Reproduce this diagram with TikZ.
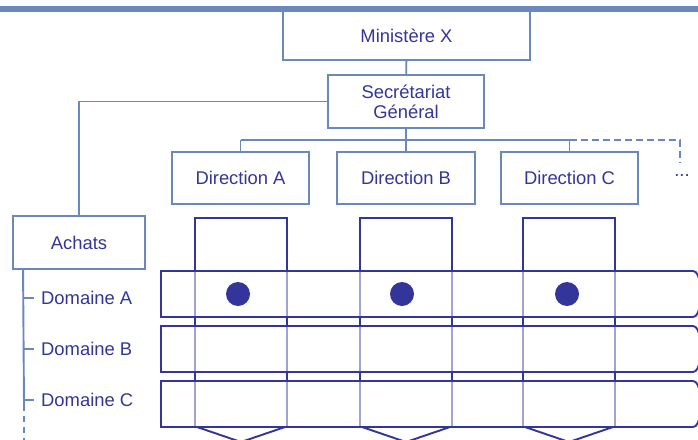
\documentclass[tikz,border=0pt]{standalone}
\usepackage{fontspec}
\setmainfont{Liberation Sans}
\definecolor{orgline}{HTML}{6A88C0}
\definecolor{orgtext}{HTML}{34359A}
\begin{document}
\begin{tikzpicture}[x=1pt,y=-1pt,
square/.style={
% The shape:
rectangle,
draw=orgline,
line width=1.9pt,
inner sep=0pt,
text=orgtext,
align=center,
font=\fontsize{18.4}{20}\selectfont
},
domtext/.style={
anchor=west,
inner sep=0pt,
text=orgtext,
font=\fontsize{18.4}{20}\selectfont
},
link/.style={draw=orgline,line width=1.9pt},
frame/.style={draw=orgtext,line width=1.9pt}
]
\useasboundingbox (0,0) rectangle (698,439);
\clip (0,0) rectangle (698,439);
\draw [orgline,line width=6pt] (0,9) -- (698,9);
% Boxes:
\node (ministry) [square,minimum width=247pt,minimum height=49pt] at (406.5,35.5) {Ministère X};
\node (secgen) [square,minimum width=156pt,minimum height=53pt] at (406,101.5) {Secrétariat\\Général};
\node (dirA) [square,minimum width=137pt,minimum height=52pt] at (240.5,178) {Direction A};
\node (dirB) [square,minimum width=138pt,minimum height=52pt] at (406,178) {Direction B};
\node (dirC) [square,minimum width=137pt,minimum height=52pt] at (569.5,178) {Direction C};
\node (achats) [square,minimum width=132pt,minimum height=53pt] at (79,242.5) {Achats};
\node (domA) [domtext] at (41,297.6) {Domaine A};
\node (domB) [domtext] at (41,348.6) {Domaine B};
\node (domC) [domtext] at (41,400.2) {Domaine C};
\node (more) [text=orgtext,inner sep=0pt,font=\fontsize{18.4}{20}\selectfont] at (682,176) {...};
\coordinate (bus) at (406,140);
\coordinate (moreend) at (680,162);
\coordinate (spine) at ([xshift=11pt]achats.south west);
\coordinate (spinecut) at (24,405);
\coordinate (spineend) at (24,441);
% Links:
\draw [link] (ministry) -- (secgen);
\draw [link] (secgen.west) -| (achats.north);
\draw [link] (secgen.south) -- (bus);
\draw [link] (dirA.north |- bus) -- (dirC.north |- bus);
\foreach \d in {dirA,dirB,dirC}
  \draw [link] (\d.north |- bus) -- (\d.north);
\draw [link,dash pattern=on 7pt off 4pt] (dirC.north |- bus) -| (moreend);
\draw [link] (spine) -- (spinecut);
\draw [link,dash pattern=on 6pt off 5pt] (spinecut) -- (spineend);
\foreach \d in {domA,domB,domC}
  \draw [link] (spine |- \d.west) -- ([xshift=-7pt]\d.west);
% Columns and bands:
\foreach \x in {241,406,569} {
  \draw [frame] (\x-46,427) |- (\x+46,218) -- (\x+46,427);
  \draw [frame] (\x-44,427) -- (\x,442) -- (\x+44,427);
}
\foreach \t in {271,326,381}
  \draw [frame,fill=white,fill opacity=0.55] (161,\t) -- (693,\t) .. controls (697,\t) and (699,\t+6) .. (700,\t+12) -- (700,\t+34) .. controls (699,\t+40) and (697,\t+46) .. (693,\t+46) -- (161,\t+46) -- cycle;
\foreach \x in {238,402,567}
  \fill [orgtext] (\x,294) circle [radius=12pt];
\end{tikzpicture}
\end{document}
